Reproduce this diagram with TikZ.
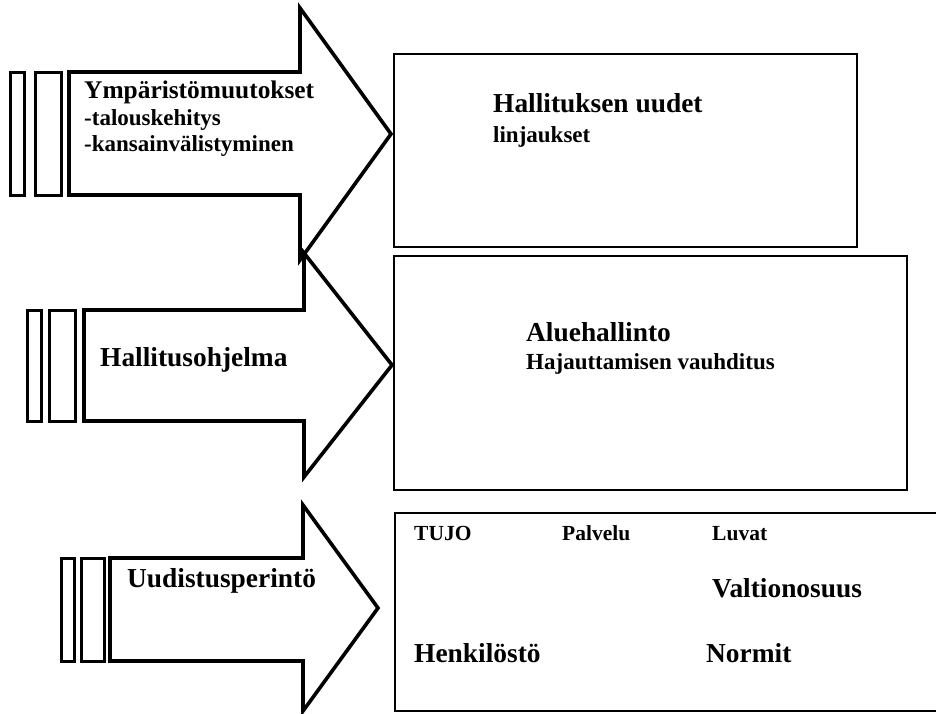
\documentclass[tikz,border=0pt]{standalone}
\usepackage{fontspec}
\setmainfont{Liberation Serif}
\begin{document}
\begin{tikzpicture}[x=1pt,y=-1pt,
  outline/.style={draw=black, line width=3.6pt, line join=miter},
  barbox/.style={draw=black, line width=3pt},
  panel/.style={draw=black, line width=2pt},
  lbl/.style={anchor=base west, inner sep=0pt},
  bighead/.style={lbl, font={\fontsize{27.4}{32}\selectfont\bfseries}},
  midhead/.style={lbl, font={\fontsize{25.4}{30}\selectfont\bfseries}},
  subtext/.style={lbl, font={\fontsize{23}{27}\selectfont\bfseries}},
  smalltext/.style={lbl, font={\fontsize{21.5}{25}\selectfont\bfseries}},
]
\useasboundingbox (0,0) rectangle (936,713);

% --- top block arrow: environment changes
\draw[barbox] (10,72) rectangle (24,195);
\draw[barbox] (35,72) rectangle (61,195);
\draw[outline] (69,72) -- (300,72) -- (300,8) -- (391,134) -- (300,260)
  -- (300,195) -- (69,195) -- cycle;
\node[midhead] (ymp) at (84,98) {Ympäristömuutokset};
\node[subtext] (tal) at (84,125) {-talouskehitys};
\node[subtext] (kan) at (84,151) {-kansainvälistyminen};

% --- middle block arrow: government programme
\draw[barbox] (27,310) rectangle (41,421);
\draw[barbox] (49,310) rectangle (75,421);
\draw[outline] (84,310) -- (304,310) -- (304,253) -- (392,365) -- (304,477)
  -- (304,421) -- (84,421) -- cycle;
\node[bighead] (hoh) at (100,366) {Hallitusohjelma};

% --- bottom block arrow: reform heritage
\draw[barbox] (61,558) rectangle (74,661);
\draw[barbox] (81,558) rectangle (104,661);
\draw[outline] (110,558) -- (303,558) -- (303,505) -- (378,608) -- (303,711)
  -- (303,661) -- (110,661) -- cycle;
\node[bighead] (uud) at (127,587) {Uudistusperintö};

% --- right-hand panels
\draw[panel] (394,54) rectangle (857,247);
\node[bighead] (hal) at (493,112) {Hallituksen uudet};
\node[subtext] (lin) at (493,142) {linjaukset};

\draw[panel] (394,256) rectangle (907,490);
\node[bighead] (alu) at (526,341) {Aluehallinto};
\node[subtext] (haj) at (526,369) {Hajauttamisen vauhditus};

\draw[panel] (936,513) -- (395,513) -- (395,711) -- (936,711);
\node[smalltext] (tujo) at (414,540) {TUJO};
\node[smalltext] (pal) at (562,540) {Palvelu};
\node[smalltext] (luv) at (712,540) {Luvat};
\node[bighead] (val) at (712,597) {Valtionosuus};
\node[bighead] (hen) at (414,662) {Henkilöstö};
\node[bighead] (nor) at (706,662) {Normit};
\end{tikzpicture}
\end{document}
